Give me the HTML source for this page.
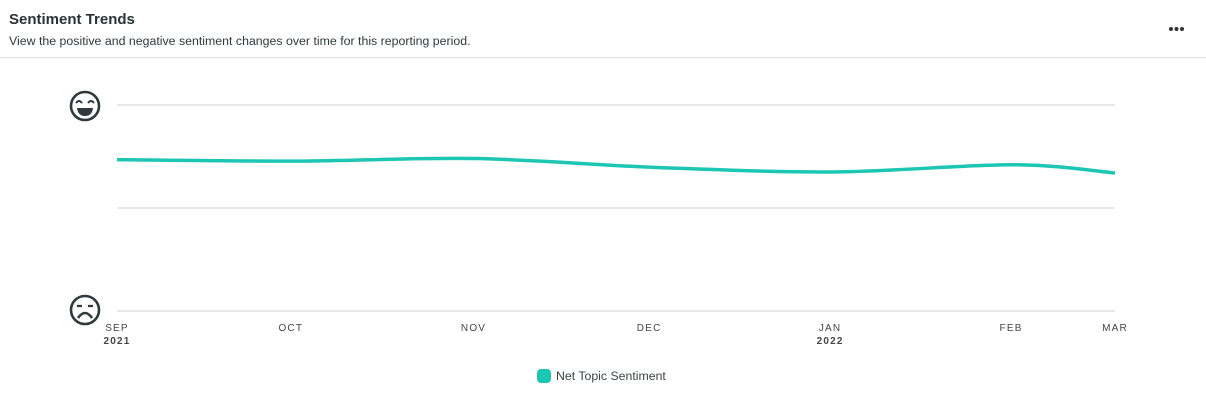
<!DOCTYPE html>
<html><head><meta charset="utf-8"><style>
body{margin:0;width:1206px;height:406px;background:#fff;font-family:"Liberation Sans",Arial,sans-serif;overflow:hidden;position:relative}
.title{position:absolute;left:9px;top:11px;font-size:15px;font-weight:bold;color:#2a3336}
.sub{position:absolute;left:9px;top:34px;font-size:12.35px;color:#2f3a3d}
.hr{position:absolute;left:0;top:57px;width:1206px;height:1px;background:#ddd}
</style></head><body>
<div class="title">Sentiment Trends</div>
<div class="sub">View the positive and negative sentiment changes over time for this reporting period.</div>
<svg style="position:absolute;left:1169px;top:26px" width="16" height="6"><circle cx="2" cy="3" r="2" fill="#333"/><circle cx="7.5" cy="3" r="2" fill="#333"/><circle cx="13" cy="3" r="2" fill="#333"/></svg>
<div class="hr"></div>
<svg id="chart" width="1206" height="406" style="position:absolute;left:0;top:0"></svg>
<script>
const months=["SEP","OCT","NOV","DEC","JAN","FEB","MAR"];
const years=["2021","","","","2022","",""];
const monthPos=[0,0.97,1.99,2.97,3.98,4.99,5.57];
const seriesX=[0,1,2,3,4,5,5.57];
const seriesY=[0.47,0.455,0.48,0.395,0.35,0.42,0.34];
const yTicks=[-1,0,1];
const svg=document.getElementById('chart');
const NS='http://www.w3.org/2000/svg';
const x0=117,x1=1115,yTop=105,yBot=311;
const xs=v=>x0+v*(x1-x0)/5.57;
const ys=v=>yBot-(v+1)/2*(yBot-yTop);
function mk(t,a){const e=document.createElementNS(NS,t);for(const k in a)e.setAttribute(k,a[k]);svg.appendChild(e);return e;}
yTicks.forEach(t=>{
 const l=mk('line',{x1:x0,x2:x1,y1:ys(t),y2:ys(t),stroke:'#e0e0e0','stroke-width':1.5});
 
 
});
function face(cy,happy){
 const g=document.createElementNS(NS,'g');svg.appendChild(g);
 
 
 const cx=85;
 g.innerHTML=`<circle cx="${cx}" cy="${cy}" r="14" fill="none" stroke="#2f3a3d" stroke-width="2.6"/>`+
 (happy?`<path d="M${cx-9} ${cy-3} q3 -4 6 0 M${cx+3} ${cy-3} q3 -4 6 0" fill="none" stroke="#2f3a3d" stroke-width="2"/><path d="M${cx-8} ${cy+2} h16 q-1 8 -8 8 q-7 0 -8 -8z" fill="#2f3a3d"/>`
 :`<path d="M${cx-8} ${cy-4} h5 M${cx+3} ${cy-4} h5" stroke="#2f3a3d" stroke-width="2.2"/><path d="M${cx-7} ${cy+8} q7 -10 14 0" fill="none" stroke="#2f3a3d" stroke-width="2.6"/>`);
}
face(106,true);face(310,false);
months.forEach((m,i)=>{
 const t=mk('text',{x:xs(monthPos[i]),y:331,'text-anchor':'middle','font-size':10,'letter-spacing':1.2,fill:'#444'});t.textContent=m;
 
 
 if(years[i]){const y=mk('text',{x:xs(monthPos[i]),y:344,'text-anchor':'middle','font-size':10,'font-weight':'bold','letter-spacing':1.2,fill:'#444'});y.textContent=years[i];
 
 }
});
const pts=seriesX.map((v,i)=>[xs(v),ys(seriesY[i])]);
let d=`M${pts[0][0]},${pts[0][1]}`;
for(let i=0;i<pts.length-1;i++){
 const p0=pts[Math.max(0,i-1)],p1=pts[i],p2=pts[i+1],p3=pts[Math.min(pts.length-1,i+2)];
 d+=` C${p1[0]+(p2[0]-p0[0])/6},${p1[1]+(p2[1]-p0[1])/6} ${p2[0]-(p3[0]-p1[0])/6},${p2[1]-(p3[1]-p1[1])/6} ${p2[0]},${p2[1]}`;
}
const line=mk('path',{d:d,fill:'none',stroke:'#1cc6b3','stroke-width':3.5});


const lr=mk('rect',{x:537,y:369,width:14,height:14,rx:4,fill:'#1cc6b3'});


const lt=mk('text',{x:556,y:380,'font-size':12.3,fill:'#3a4447'});lt.textContent='Net Topic Sentiment';


</script>
</body></html>
